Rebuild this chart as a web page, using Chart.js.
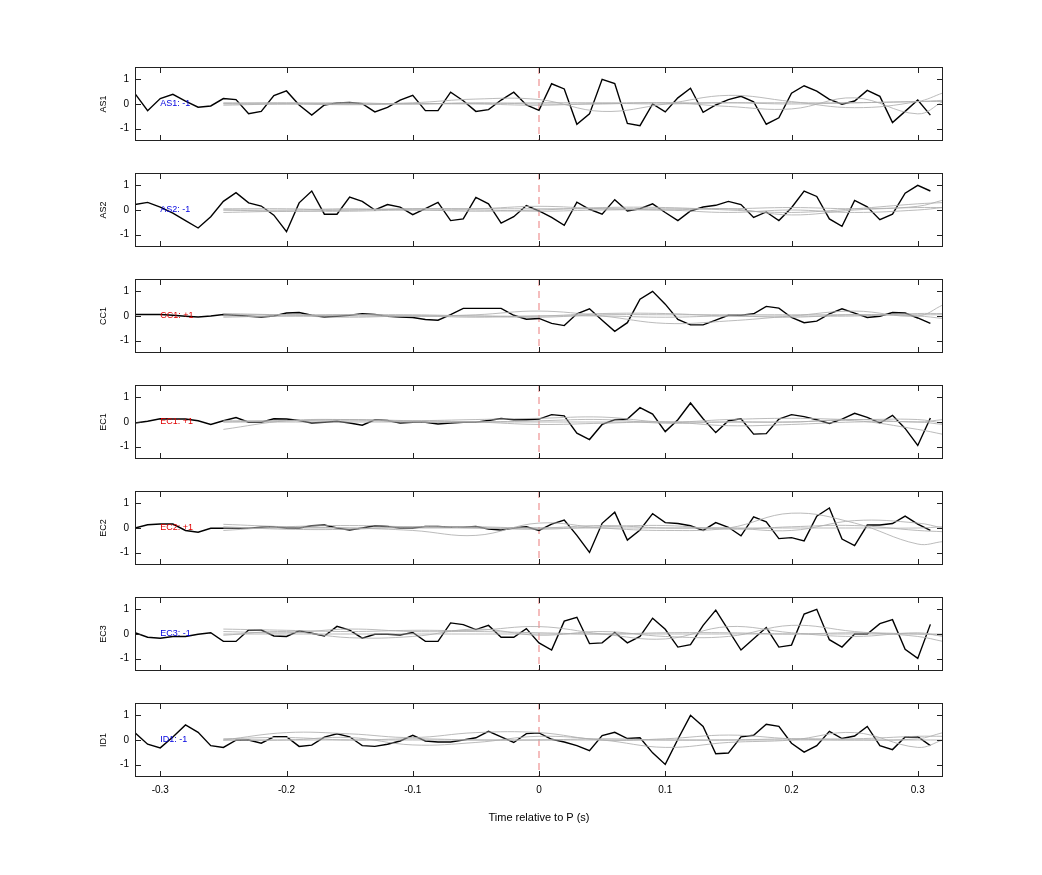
<!DOCTYPE html>
<html>
<head>
<meta charset="utf-8">
<script src="https://cdn.jsdelivr.net/npm/chart.js@4"></script>
<style>
  body { margin: 0; background: #fff; width: 1042px; height: 875px; position: relative; overflow: hidden; }
  .panel { position: absolute; left: 0; width: 1042px; }
</style>
</head>
<body>
<div id="wrap"></div>
<script>
// sample times of the black traces (s)
const times = Array.from({ length: 64 }, (_, i) => Math.round((-0.32 + i * 0.01) * 100) / 100);
// sample times of the smooth grey traces
const greyTimes = [-0.25, -0.2, -0.15, -0.1, -0.05, 0, 0.05, 0.1, 0.15, 0.2, 0.25, 0.3, 0.32];

const stations = ["AS1", "AS2", "CC1", "EC1", "EC2", "EC3", "ID1"];
const polarities = ["-1", "-1", "+1", "+1", "+1", "-1", "-1"];

const as1 = [0.42,-0.27,0.22,0.39,0.12,-0.13,-0.08,0.22,0.18,-0.39,-0.30,0.34,0.53,-0.04,-0.45,-0.04,0.04,0.06,0.01,-0.32,-0.14,0.16,0.35,-0.27,-0.27,0.48,0.13,-0.30,-0.23,0.16,0.48,-0.04,-0.26,0.82,0.61,-0.82,-0.40,1.00,0.83,-0.79,-0.88,0,-0.32,0.25,0.64,-0.34,-0.04,0.18,0.31,0.09,-0.82,-0.56,0.44,0.74,0.52,0.19,-0.01,0.12,0.55,0.31,-0.75,-0.30,0.16,-0.45];
const as2 = [0.22,0.31,0.12,-0.13,-0.43,-0.73,-0.27,0.35,0.70,0.29,0.16,-0.21,-0.88,0.29,0.77,-0.17,-0.17,0.52,0.35,0,0.22,0.12,-0.19,0.06,0.31,-0.43,-0.36,0.51,0.25,-0.53,-0.27,0.18,-0.04,-0.30,-0.62,0.32,0.03,-0.17,0.42,-0.04,0.05,0.25,-0.10,-0.43,-0.04,0.12,0.19,0.35,0.22,-0.30,-0.08,-0.43,0.09,0.77,0.55,-0.36,-0.66,0.39,0.13,-0.39,-0.17,0.68,1.00,0.77];
const cc1 = [0.06,0.06,0.06,0.03,-0.01,-0.04,0,0.06,0.03,-0.01,-0.04,0,0.12,0.14,0.03,-0.04,-0.01,0.03,0.09,0.06,-0.01,-0.04,-0.06,-0.14,-0.17,0.06,0.31,0.31,0.31,0.31,0.03,-0.13,-0.10,-0.30,-0.39,0.09,0.29,-0.17,-0.62,-0.27,0.68,1.00,0.48,-0.14,-0.36,-0.36,-0.17,0.03,0.03,0.09,0.39,0.32,-0.06,-0.27,-0.21,0.09,0.29,0.12,-0.06,-0.01,0.14,0.12,-0.08,-0.30];
const ec1 = [-0.04,0.03,0.13,0.12,0.12,0.05,-0.10,0.05,0.18,-0.01,-0.01,0.13,0.12,0.06,-0.04,-0.01,0.03,-0.04,-0.13,0.09,0.06,-0.04,-0.01,-0.01,-0.08,-0.04,-0.01,-0.01,0.06,0.14,0.09,0.09,0.12,0.30,0.25,-0.45,-0.71,-0.10,0.09,0.12,0.58,0.32,-0.39,0.09,0.77,0.13,-0.43,0.05,0.13,-0.49,-0.47,0.12,0.30,0.22,0.09,-0.06,0.12,0.35,0.19,-0.04,0.27,-0.26,-0.95,0.16];
const ec2 = [0,0.13,0.16,0.16,-0.10,-0.17,-0.01,-0.01,-0.01,-0.01,0.03,0.05,0,0,0.09,0.12,0,-0.08,0,0.09,0.06,0,0,0.06,0.06,0.03,0.03,0.06,-0.04,-0.08,0,0.05,-0.10,0.16,0.32,-0.30,-0.99,0.19,0.64,-0.49,-0.08,0.58,0.22,0.18,0.09,-0.10,0.22,0.03,-0.32,0.45,0.25,-0.43,-0.39,-0.52,0.48,0.81,-0.45,-0.71,0.12,0.12,0.18,0.48,0.16,-0.10];
const ec3 = [0.05,-0.13,-0.17,-0.10,-0.10,-0.01,0.05,-0.30,-0.30,0.16,0.16,-0.08,-0.10,0.13,0.03,-0.08,0.31,0.16,-0.17,-0.01,-0.01,-0.04,0.06,-0.30,-0.30,0.45,0.38,0.18,0.35,-0.13,-0.13,0.22,-0.36,-0.65,0.52,0.68,-0.39,-0.36,0.06,-0.36,-0.10,0.64,0.19,-0.53,-0.43,0.35,0.97,0.16,-0.65,-0.19,0.26,-0.53,-0.45,0.81,1.00,-0.23,-0.53,0,0,0.42,0.58,-0.62,-0.99,0.39];
const id1 = [0.29,-0.17,-0.32,0.12,0.61,0.31,-0.23,-0.30,-0.01,0,-0.13,0.13,0.13,-0.26,-0.21,0.12,0.25,0.13,-0.23,-0.26,-0.17,-0.04,0.19,-0.04,-0.08,-0.08,0,0.09,0.35,0.13,-0.10,0.26,0.29,0.03,-0.08,-0.23,-0.43,0.18,0.31,0.06,0.09,-0.52,-0.99,0.03,1.00,0.55,-0.56,-0.53,0.13,0.19,0.64,0.55,-0.13,-0.49,-0.23,0.35,0.06,0.16,0.55,-0.23,-0.39,0.12,0.13,-0.23];
const traces = [as1, as2, cc1, ec1, ec2, ec3, id1];

// grey comparison traces, one list per panel
const greyAS1 = [
  [0,0,0,0.05,0.2,0.18,-0.3,0,0.35,0.1,-0.15,0.1,0.45],
  [0.05,0.03,0.05,0,0.05,0,0,0.05,-0.1,-0.2,0.25,-0.4,0.1],
  [-0.05,0,-0.03,0,0,-0.05,0.02,0,0.05,0,0.05,0.1,0.15],
  [0.02,0.05,0,0.02,0.02,0.05,0.05,0.05,0.05,0.05,0.05,0.1,0.1],
];
const greyAS2 = [
  [0,-0.05,0,0.05,0.05,0.15,0.05,0,0.05,-0.2,0,0.15,0.4],
  [-0.1,-0.05,-0.05,0,-0.05,0,0.1,0.1,0,-0.1,0.05,0.25,0.3],
  [0,0,0.05,0,0,-0.05,0,0,-0.1,0,-0.1,0,0.1],
  [0.05,0.05,0,0.05,0.05,0.05,0.05,0.05,0.05,0.1,0.05,0.1,0.1],
];
const greyCC1 = [
  [0,0,0.05,0,0.05,0.2,0,-0.3,-0.2,0,0.2,0,0.45],
  [0.05,0.05,0,0,0,0,0.1,0.1,0,0,0,0.1,0.1],
  [-0.05,0,-0.05,0,-0.05,0,0,-0.05,0,-0.05,0.05,0,-0.1],
  [0.1,0.05,0.05,0.05,0,-0.05,0.05,0.05,0.05,0.05,0.05,0.05,0.05],
];
const greyEC1 = [
  [-0.3,0.05,0.1,0.05,0,-0.1,-0.05,0,-0.15,-0.1,0,0,-0.1],
  [0.05,0.05,0.05,0.05,0.1,0.15,0.2,0,0.1,0.15,0.1,0.1,-0.05],
  [0,0.05,0.1,0,0,0.05,0.1,-0.05,0,0,0.1,0,0.1],
  [0,0,0,0,0,0,0,0,0,0,0.05,-0.3,-0.5],
];
const greyEC2 = [
  [0.15,0.05,0,-0.1,-0.3,0.2,0,-0.1,0,0.6,0.2,-0.65,-0.55],
  [-0.1,0.05,0.1,0.05,0.05,0,0.1,0,0,-0.1,0.3,0.2,0],
  [0.05,-0.05,-0.05,0.05,0,-0.05,0.05,0.1,-0.05,0.05,0.1,-0.1,-0.15],
  [0,0,0,0,0,0,0,0,0,0,0,0,0.05],
];
const greyEC3 = [
  [0.2,0.15,0.1,0.15,0.15,0.3,0,-0.2,0.3,0.05,-0.1,0.05,-0.1],
  [-0.05,0.1,-0.15,-0.1,0.2,-0.05,0.1,-0.1,-0.1,0.35,0.1,-0.1,-0.3],
  [0.1,0.05,0.2,0.1,0.1,0.05,0,0.05,0.05,0,0.05,0,-0.05],
  [0,0,0,0,0,0,0,0,0,0,0,0,0],
];
const greyID1 = [
  [0,0.3,0.25,0.1,0.3,0.3,0,0.05,0.2,0.05,0,0.05,0.3],
  [0,0,0.1,-0.2,-0.1,0.15,0,-0.3,-0.1,0,0.3,-0.3,0],
  [0.05,0.1,0,0.05,0,0,0.05,0,0,0.05,0.05,0.15,0.15],
  [0,0,0,0,0,0,0,0,0,0,0,0,0],
];
const greys = [greyAS1, greyAS2, greyCC1, greyEC1, greyEC2, greyEC3, greyID1];

const xTicks = [-0.3, -0.2, -0.1, 0, 0.1, 0.2, 0.3];
const yTicks = [-1, 0, 1];

const FONT = "'Liberation Sans', Arial, sans-serif";
Chart.defaults.font.family = FONT;
Chart.defaults.color = "#000";

// box, inward ticks, zero line and the station label
const frame = {
  id: "frame",
  beforeDatasetsDraw(chart) {
    const { ctx, chartArea: a, scales: { x } } = chart;
    const x0 = x.getPixelForValue(0);
    ctx.save();
    ctx.strokeStyle = "rgba(230,90,90,0.8)";
    ctx.lineWidth = 1;
    ctx.setLineDash([7, 5]);
    ctx.beginPath();
    ctx.moveTo(x0, a.top);
    ctx.lineTo(x0, a.bottom);
    ctx.stroke();
    ctx.restore();
  },
  afterDraw(chart, args, opts) {
    const { ctx, chartArea: a, scales: { x, y } } = chart;
    ctx.save();
    ctx.strokeStyle = "#222";
    ctx.lineWidth = 1;
    ctx.strokeRect(a.left + 0.5, a.top + 0.5, a.width - 1, a.height - 1);
    ctx.beginPath();
    xTicks.forEach((t) => {
      const px = Math.round(x.getPixelForValue(t)) + 0.5;
      ctx.moveTo(px, a.top); ctx.lineTo(px, a.top + 6);
      ctx.moveTo(px, a.bottom); ctx.lineTo(px, a.bottom - 6);
    });
    yTicks.forEach((t) => {
      const py = Math.round(y.getPixelForValue(t)) + 0.5;
      ctx.moveTo(a.left, py); ctx.lineTo(a.left + 6, py);
      ctx.moveTo(a.right, py); ctx.lineTo(a.right - 6, py);
    });
    ctx.stroke();
    ctx.fillStyle = opts.color;
    ctx.font = `9px ${FONT}`;
    ctx.textBaseline = "middle";
    ctx.fillText(opts.text, x.getPixelForValue(-0.3), y.getPixelForValue(0));
    ctx.restore();
  },
};

const wrap = document.getElementById("wrap");
stations.forEach((name, i) => {
  const last = i === stations.length - 1;
  const div = document.createElement("div");
  div.className = "panel";
  div.style.top = (55 + 106 * i) + "px";
  div.style.height = (last ? 155 : 106) + "px";
  const canvas = document.createElement("canvas");
  div.appendChild(canvas);
  wrap.appendChild(div);

  const datasets = greys[i].map((g) => ({
    data: g.map((v, k) => ({ x: greyTimes[k], y: v })),
    borderColor: "rgba(175,175,175,0.85)",
    borderWidth: 1,
    pointRadius: 0,
    tension: 0.4,
  }));
  datasets.push({
    data: traces[i].map((v, k) => ({ x: times[k], y: v })),
    borderColor: "#000",
    borderWidth: 1.4,
    pointRadius: 0,
    tension: 0,
  });

  new Chart(canvas, {
    type: "line",
    data: { datasets },
    options: {
      responsive: true,
      maintainAspectRatio: false,
      animation: false,
      clip: true,
      layout: { padding: { top: 10, right: 99, bottom: last ? 17 : 20, left: 98 } },
      scales: {
        x: {
          type: "linear",
          min: -0.32,
          max: 0.32,
          display: last,
          afterBuildTicks: (s) => { s.ticks = xTicks.map((v) => ({ value: v })); },
          afterFit: (s) => { if (last) s.height = 52; },
          ticks: { font: { size: 10 }, padding: 7, callback: (v) => String(Math.round(v * 10) / 10) },
          grid: { display: false, drawTicks: false },
          border: { display: false },
          title: { display: true, text: "Time relative to P (s)", font: { size: 11 }, padding: { top: 6 } },
        },
        y: {
          min: -1.5,
          max: 1.5,
          afterBuildTicks: (s) => { s.ticks = yTicks.map((v) => ({ value: v })); },
          afterFit: (s) => { s.width = 37; },
          ticks: { font: { size: 10 }, padding: 6 },
          grid: { display: false, drawTicks: false },
          border: { display: false },
          title: { display: true, text: name, font: { size: 9 }, padding: 0 },
        },
      },
      plugins: {
        legend: { display: false },
        tooltip: { enabled: false },
        frame: { text: `${name}: ${polarities[i]}`, color: polarities[i] === "+1" ? "#e00000" : "#0000e0" },
      },
    },
    plugins: [frame],
  });
});
</script>
</body>
</html>
